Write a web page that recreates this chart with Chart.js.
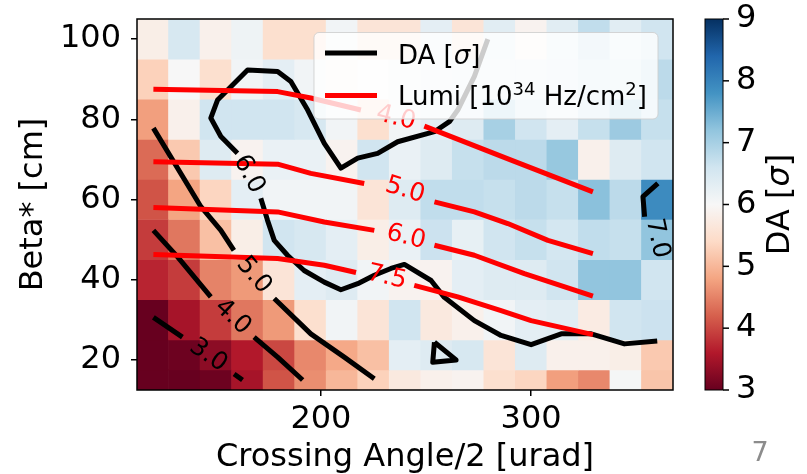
<!DOCTYPE html>
<html>
<head>
<meta charset="utf-8">
<script src="https://cdn.jsdelivr.net/npm/chart.js@4.4.1/dist/chart.umd.min.js"></script>
<style>
  html, body { margin: 0; padding: 0; background: #fff; }
  #wrap { width: 807px; height: 474px; }
</style>
</head>
<body>
<div id="wrap"><canvas id="chart" width="807" height="474"></canvas></div>
<script>
// grid of the scan: crossing angle/2 (urad) and beta* (cm)
const xCenters = [120, 135, 150, 165, 180, 195, 210, 225, 240, 255, 270, 285, 300, 315, 330, 345, 360];
const yCenters = [100, 90, 80, 70, 60, 50, 40, 30, 20, 15];

// DA [sigma] per row
const da100 = [5.8, 6.5, 5.85, 6.15, 5.5, 5.5, 6.1, 5.6, 5.6, 6.3, 5.6, 6.35, 5.9, 6.35, 6.75, 6.35, 6.6];
const da90  = [5.3, 6.0, 5.5, 6.1, 6.3, 6.1, 5.9, 6.0, 6.1, 6.2, 6.3, 6.3, 6.3, 6.4, 6.6, 6.5, 6.8];
const da80  = [4.75, 5.85, 6.6, 6.6, 6.6, 6.5, 6.1, 5.5, 6.1, 6.3, 6.4, 7.0, 6.6, 6.3, 6.7, 7.1, 6.7];
const da70  = [4.3, 5.2, 6.4, 5.9, 6.2, 6.2, 5.9, 6.6, 6.2, 6.4, 6.7, 6.8, 6.8, 7.15, 5.85, 6.4, 6.6];
const da60  = [4.1, 4.8, 5.35, 6.3, 6.1, 6.1, 6.1, 5.6, 6.4, 6.75, 6.75, 6.7, 6.8, 6.7, 7.25, 6.8, 7.9];
const da50  = [3.9, 4.4, 5.1, 5.8, 6.6, 6.5, 6.3, 5.8, 6.2, 6.65, 6.25, 6.6, 6.7, 6.55, 6.75, 6.7, 7.2];
const da40  = [3.7, 3.9, 4.5, 4.7, 5.6, 6.3, 6.4, 6.1, 5.9, 5.9, 6.3, 6.4, 6.4, 6.6, 7.2, 7.2, 6.6];
const da30  = [3.0, 3.5, 3.9, 4.4, 4.7, 5.5, 6.1, 5.6, 6.6, 5.7, 5.85, 6.1, 6.3, 6.35, 5.75, 6.6, 6.65];
const da20  = [3.0, 3.05, 3.3, 3.6, 4.0, 4.55, 4.85, 5.1, 6.3, 6.4, 6.5, 5.6, 6.4, 5.85, 5.85, 5.8, 5.2];
const da15  = [3.0, 3.0, 3.05, 3.5, 4.1, 4.6, 5.0, 5.3, 5.7, 5.85, 5.9, 5.5, 5.35, 4.75, 4.55, 6.05, 5.15];
const daRows = [da100, da90, da80, da70, da60, da50, da40, da30, da20, da15];

// DA contour lines [x, y], null = break for the label
const daLevel3 = [[120.3, 30.6], [134.1, 25.7], null, [158.7, 16.5], [162.7, 15]];
const daLevel4 = [[120.3, 52.3], [131.8, 45.7], [147.6, 35.7], null, [168.2, 25.7], [179.4, 20.7], [191.3, 15]];
const daLevel5 = [[120.3, 77.8], [142.9, 58.2], [152.4, 52.3], [158.6, 47.3], null, [177.8, 35.3], [195.2, 26.5], [211.1, 20.7], [225.4, 15.3]];
const daLevel6 = [[360, 24.7], [344.4, 24.0], [328.6, 26.5], [314.3, 26.5], [300, 23.8], [285.7, 26.1], [273, 29.8],
  [258.7, 35.6], [252.4, 39.8], [239.7, 43.8], [233.3, 42.8], [225.4, 41.1], [217.5, 39], [209.5, 37.5], [201.6, 39.4],
  [192, 42.3], [184.1, 46.1], [177.8, 49.8], [174.6, 54.8], [171.4, 60.3], null, [160.3, 71.5], [152.4, 75.7],
  [147.6, 80.3], [150.8, 84.8], [155.6, 87.3], [165.1, 92.3], [179.4, 91.9], [185.7, 89.4], [193.7, 82.3],
  [201.6, 74], [209.5, 67.8], [217.5, 70.3], [227, 71.5], [236.5, 74.4], [254, 76.9], [261.1, 79.4], [265.1, 82.3],
  [273, 90.7], [279.4, 100]];
const daLevel6b = [[254, 24.4], [253.2, 19.4], [264.3, 20], [254, 24.4]];
const daLevel7 = [[360.3, 64], [353.2, 60.7], [354, 55.7]];

// luminosity contour lines [10^34 Hz/cm^2]
const lumi4 = [[120.3, 87.5], [179.4, 86.9], [195.2, 85.3], [219, 82.3], null, [249.2, 78.3], [290.5, 69.8], [329.4, 61.9]];
const lumi5 = [[120.3, 69.4], [179.4, 68.8], [195.2, 66.5], [220.6, 64], null, [254, 59.4], [273, 56.9], [288.9, 54], [308, 49.8], [329.4, 46.5]];
const lumi6 = [[120.3, 58], [179.4, 56.9], [201.6, 54.4], [225.4, 52.3], null, [254, 48.6], [273, 46.1], [296.8, 41.5], [329.4, 35.9]];
const lumi75 = [[120.3, 46.3], [179.4, 45.3], [201.6, 43.6], [216.7, 41.8], null, [244.4, 38.6], [265.1, 35.7], [285.7, 32.3], [300, 29.8], [329.4, 26.3]];

// contour labels: text, x, y, angle (deg)
const daLabels = [['3.0', 146.4, 21.1, 35], ['4.0', 158, 30.7, 43], ['5.0', 168.1, 41.1, 50], ['6.0', 165.7, 66.3, 62], ['7.0', 360, 50.3, 78]];
const lumiLabels = [['4.0', 235.7, 80.3, 14], ['5.0', 240, 62.3, 17], ['6.0', 240.5, 50.6, 14], ['7.5', 231.4, 40.6, 13]];

const xTicks = [200, 300];
const yTicks = [20, 40, 60, 80, 100];
const cbTicks = [3, 4, 5, 6, 7, 8, 9];
const daMin = 3, daMax = 9;

const FONT = 'DejaVu Sans';
const rdbu = ['#67001f', '#b2182b', '#d6604d', '#f4a582', '#fddbc7', '#f7f7f7', '#d1e5f0', '#92c5de', '#4393c3', '#2166ac', '#053061'];

function hexRgb(h) {
    return [parseInt(h.slice(1, 3), 16), parseInt(h.slice(3, 5), 16), parseInt(h.slice(5, 7), 16)];
}

function daColor(v) {
    let t = (v - daMin) / (daMax - daMin);
    t = Math.max(0, Math.min(1, t));
    const p = t * 10;
    const i = Math.min(9, Math.floor(p));
    const f = p - i;
    const a = hexRgb(rdbu[i]), b = hexRgb(rdbu[i + 1]);
    const c = a.map((ch, k) => Math.round(ch + (b[k] - ch) * f));
    return `rgb(${c[0]},${c[1]},${c[2]})`;
}

// cell edges from the centres
function rowEdges(i) {
    const y = yCenters[i];
    const last = yCenters.length - 1;
    const up = i === 0 ? y + (y - yCenters[1]) / 2 : (y + yCenters[i - 1]) / 2;
    const dn = i === last ? y - (yCenters[last - 1] - y) / 2 : (y + yCenters[i + 1]) / 2;
    return [dn, up];
}

const heatSets = daRows.map((row, r) => ({
    type: 'bar',
    data: xCenters.map(x => ({ x, y: rowEdges(r) })),
    backgroundColor: row.map(daColor),
    borderWidth: 0,
    barPercentage: 1,
    categoryPercentage: 1,
    grouped: false,
    order: 5
}));

function toPoints(pts) {
    let lastX = pts[0][0];
    return pts.map(p => {
        if (!p) return { x: lastX, y: null };
        lastX = p[0];
        return { x: p[0], y: p[1] };
    });
}

function contour(pts, color, order) {
    return {
        type: 'line',
        data: toPoints(pts),
        borderColor: color,
        borderWidth: 5,
        pointRadius: 0,
        fill: false,
        tension: 0,
        spanGaps: false,
        borderJoinStyle: 'round',
        order
    };
}

const lineSets = [
    contour(lumi4, '#ff0000', 0),
    contour(lumi5, '#ff0000', 0),
    contour(lumi6, '#ff0000', 0),
    contour(lumi75, '#ff0000', 0),
    contour(daLevel3, '#000000', 1),
    contour(daLevel4, '#000000', 1),
    contour(daLevel5, '#000000', 1),
    contour(daLevel6, '#000000', 1),
    contour(daLevel6b, '#000000', 1),
    contour(daLevel7, '#000000', 1)
];

function drawParts(ctx, parts, x, y) {
    // parts: [text, size, italic, dy]
    let cx = x;
    parts.forEach(([t, size, italic, dy]) => {
        ctx.font = `${italic ? 'italic ' : ''}${size}px "${FONT}"`;
        ctx.fillText(t, cx, y + (dy || 0));
        cx += ctx.measureText(t).width;
    });
    return cx - x;
}

function partsWidth(ctx, parts) {
    let w = 0;
    parts.forEach(([t, size, italic]) => {
        ctx.font = `${italic ? 'italic ' : ''}${size}px "${FONT}"`;
        w += ctx.measureText(t).width;
    });
    return w;
}

const overlay = {
    id: 'overlay',
    afterDatasetsDraw(chart) {
        const { ctx, chartArea: ca, scales } = chart;
        const xs = scales.x, ys = scales.y;

        // contour labels
        ctx.save();
        ctx.font = `25px "${FONT}"`;
        ctx.textAlign = 'center';
        ctx.textBaseline = 'middle';
        const labelSet = (list, color) => list.forEach(([t, x, y, ang]) => {
            ctx.save();
            ctx.translate(xs.getPixelForValue(x), ys.getPixelForValue(y));
            ctx.rotate(ang * Math.PI / 180);
            ctx.fillStyle = color;
            ctx.fillText(t, 0, 0);
            ctx.restore();
        });
        labelSet(daLabels, '#000');
        labelSet(lumiLabels, '#ff0000');
        ctx.restore();

        // frame
        ctx.save();
        ctx.strokeStyle = '#000';
        ctx.lineWidth = 1.5;
        ctx.strokeRect(ca.left, ca.top, ca.right - ca.left, ca.bottom - ca.top);
        ctx.restore();

        // legend box
        const bx = ca.left + 177, by = ca.top + 13.5, bw = 344, bh = 86.5;
        ctx.save();
        ctx.beginPath();
        ctx.roundRect(bx, by, bw, bh, 5);
        ctx.fillStyle = 'rgba(255,255,255,0.8)';
        ctx.fill();
        ctx.strokeStyle = 'rgba(204,204,204,0.8)';
        ctx.lineWidth = 1;
        ctx.stroke();
        ctx.lineWidth = 5;
        ctx.strokeStyle = '#000';
        ctx.beginPath();
        ctx.moveTo(bx + 11, by + 20.5);
        ctx.lineTo(bx + 63, by + 20.5);
        ctx.stroke();
        ctx.strokeStyle = '#ff0000';
        ctx.beginPath();
        ctx.moveTo(bx + 11, by + 63);
        ctx.lineTo(bx + 63, by + 63);
        ctx.stroke();
        ctx.fillStyle = '#000';
        ctx.textBaseline = 'alphabetic';
        ctx.textAlign = 'left';
        drawParts(ctx, [['DA [', 26], ['\u03c3', 26, true], [']', 26]], bx + 84, by + 31);
        drawParts(ctx, [['Lumi [10', 26], ['34', 18, false, -10], [' Hz/cm', 26], ['2', 18, false, -10], [']', 26]], bx + 84, by + 72);
        ctx.restore();
    },
    afterDraw(chart) {
        const { ctx, chartArea: ca, scales } = chart;
        const cb = scales.cb;
        const top = cb.getPixelForValue(daMax), bot = cb.getPixelForValue(daMin);
        const x0 = ca.right + 32, w = 18;

        // colour bar
        ctx.save();
        const g = ctx.createLinearGradient(0, bot, 0, top);
        rdbu.forEach((c, i) => g.addColorStop(i / 10, c));
        ctx.fillStyle = g;
        ctx.fillRect(x0, top, w, bot - top);
        ctx.strokeStyle = '#000';
        ctx.lineWidth = 1;
        ctx.strokeRect(x0, top, w, bot - top);
        ctx.lineWidth = 1.5;
        cbTicks.forEach(v => {
            const py = cb.getPixelForValue(v);
            ctx.beginPath();
            ctx.moveTo(x0 + w, py);
            ctx.lineTo(x0 + w + 6, py);
            ctx.stroke();
        });

        // colour bar title
        ctx.translate(781, (top + bot) / 2);
        ctx.rotate(-Math.PI / 2);
        ctx.fillStyle = '#000';
        ctx.textBaseline = 'middle';
        const parts = [['DA [', 32], ['\u03c3', 32, true], [']', 32]];
        drawParts(ctx, parts, -partsWidth(ctx, parts) / 2, 0);
        ctx.restore();

        // page number
        ctx.save();
        ctx.font = `27px "${FONT}"`;
        ctx.fillStyle = '#8c8c8c';
        ctx.textAlign = 'center';
        ctx.textBaseline = 'middle';
        ctx.fillText('7', 760, 454);
        ctx.restore();
    }
};

const tickGrid = { drawOnChartArea: false, drawTicks: true, tickLength: 6, color: '#000', lineWidth: 1.5 };

// keep the fixed layout: no extra room for overhanging tick labels
function fixedWidth(w) {
    return s => { s.width = w; s.paddingTop = 0; s.paddingBottom = 0; };
}

new Chart(document.getElementById('chart').getContext('2d'), {
    type: 'bar',
    data: { datasets: [...lineSets, ...heatSets] },
    options: {
        responsive: false,
        animation: false,
        layout: { padding: { top: 19, left: 0, right: 0, bottom: 0 } },
        plugins: { legend: { display: false }, tooltip: { enabled: false } },
        scales: {
            x: {
                type: 'linear',
                min: 112.5,
                max: 367.5,
                offset: false,
                afterBuildTicks: s => { s.ticks = xTicks.map(v => ({ value: v })); },
                afterFit: s => { s.height = 84; s.paddingLeft = 0; s.paddingRight = 0; },
                grid: { ...tickGrid, offset: false },
                border: { display: false },
                ticks: { font: { family: FONT, size: 32 }, color: '#000', padding: 4, maxRotation: 0 },
                title: { display: true, text: 'Crossing Angle/2 [urad]', color: '#000', font: { family: FONT, size: 32, lineHeight: 1 }, padding: { top: 0, bottom: 0.5 } }
            },
            y: {
                type: 'linear',
                min: 12.5,
                max: 105,
                afterBuildTicks: s => { s.ticks = yTicks.map(v => ({ value: v })); },
                afterFit: fixedWidth(137),
                grid: tickGrid,
                border: { display: false },
                ticks: { font: { family: FONT, size: 32 }, color: '#000', padding: 10 },
                title: { display: true, text: 'Beta* [cm]', color: '#000', font: { family: FONT, size: 32, lineHeight: 1 }, padding: { top: 18, bottom: 0 } }
            },
            cb: {
                type: 'linear',
                position: 'right',
                min: daMin,
                max: daMax,
                afterBuildTicks: s => { s.ticks = cbTicks.map(v => ({ value: v })); },
                afterFit: fixedWidth(134),
                grid: { drawOnChartArea: false, drawTicks: false },
                border: { display: false },
                ticks: { font: { family: FONT, size: 32 }, color: '#000', padding: 63 }
            }
        }
    },
    plugins: [overlay]
});
</script>
</body>
</html>
